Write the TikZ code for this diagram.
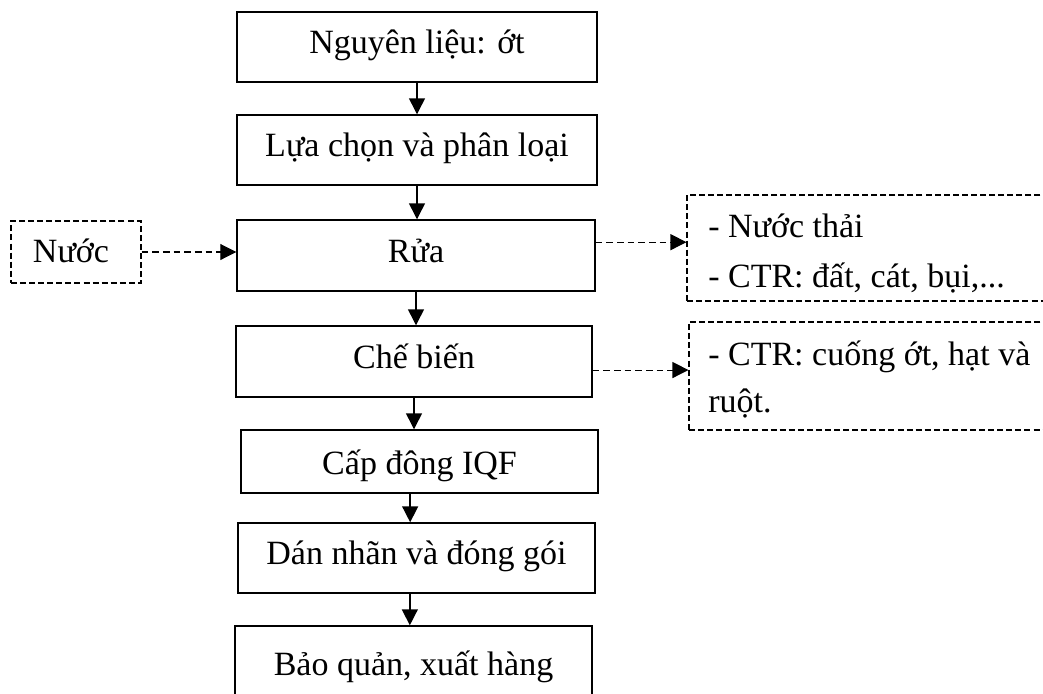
\documentclass[tikz,border=0pt]{standalone}
\usepackage{fontspec}
\setmainfont{Liberation Serif}
\usetikzlibrary{arrows.meta}

\tikzset{
  stepbox/.style={draw=black, line width=1.1pt, rectangle, inner sep=0pt,
    font=\fontsize{25.5}{30}\selectfont, text height=15pt, text depth=5pt},
  dashbox/.style={draw=black, line width=0.8pt, rectangle, inner sep=0pt,
    dash pattern=on 4.5pt off 2.3pt, font=\fontsize{25.5}{30}\selectfont},
  sidetext/.style={anchor=base west, inner sep=0pt, font=\fontsize{25.5}{30}\selectfont},
  flow/.style={draw=black, line width=1.1pt, -{Triangle[length=12pt,width=12pt]}},
  dashflow/.style={draw=black, line width=0.8pt, dash pattern=on 5pt off 3pt,
    -{Triangle[length=12pt,width=12pt]}}
}

\begin{document}
\begin{tikzpicture}[x=0.75pt, y=-0.75pt]
  \useasboundingbox (0,0) rectangle (1043,693);
  \clip (0,0) rectangle (1043,693);

  % main process chain
  \node[stepbox, minimum width=270pt, minimum height=52.5pt] (b1) at (417,47) {Nguyên liệu: ớt};
  \node[stepbox, minimum width=270pt, minimum height=52.5pt] (b2) at (417,150) {Lựa chọn và phân loại};
  \node[stepbox, minimum width=268.5pt, minimum height=53.25pt] (b3) at (416,255.5) {Rửa};
  \node[stepbox, minimum width=267pt, minimum height=53.25pt] (b4) at (414,361.5) {Chế biến};
  \node[stepbox, minimum width=267.75pt, minimum height=47.25pt, text height=18.75pt, text depth=0pt] (b5) at (419.5,461.5) {Cấp đông IQF};
  \node[stepbox, minimum width=267.75pt, minimum height=52.5pt] (b6) at (416.5,558) {Dán nhãn và đóng gói};
  \node[stepbox, minimum width=267.75pt, minimum height=60pt, text height=17pt, text depth=3.5pt] (b7) at (413.5,666) {Bảo quản, xuất hàng};

  % input
  \node[dashbox, minimum width=97.5pt, minimum height=46.5pt, text height=18pt, text depth=3pt,
        text width=97.5pt, align=left, inner xsep=0pt] (water) at (76,252) {\hspace*{16.5pt}Nước};

  % outputs
  \node[dashbox, minimum width=279.75pt, minimum height=79.5pt] (out1) at (873.5,248) {};
  \node[sidetext] (out1a) at (708,237) {- Nước thải};
  \node[sidetext] (out1b) at (708,287) {- CTR: đất, cát, bụi,...};

  \node[dashbox, minimum width=278.25pt, minimum height=81pt] (out2) at (874.5,376) {};
  \node[sidetext] (out2a) at (708,365) {- CTR: cuống ớt, hạt và};
  \node[sidetext] (out2b) at (708,412) {ruột.};

  % solid flow arrows
  \draw[flow] (b1.south) -- (b1.south |- b2.north);
  \draw[flow] (b2.south) -- (b2.south |- b3.north);
  \draw[flow] (b3.south) -- (b3.south |- b4.north);
  \draw[flow] (b4.south) -- (b4.south |- b5.north);
  \draw[flow] ([xshift=-7pt]b5.south) coordinate (s5) -- (s5 |- b6.north);
  \draw[flow] ([xshift=-5pt]b6.south) coordinate (s6) -- (s6 |- b7.north);

  % dashed side arrows
  \draw[dashflow] (water.east) -- (water.east -| b3.west);
  \draw[dashflow] ([yshift=10pt]b3.east) coordinate (s3) -- (s3 -| out1.west);
  \draw[dashflow] ([yshift=-6.4pt]b4.east) coordinate (s4) -- (s4 -| out2.west);
\end{tikzpicture}
\end{document}
